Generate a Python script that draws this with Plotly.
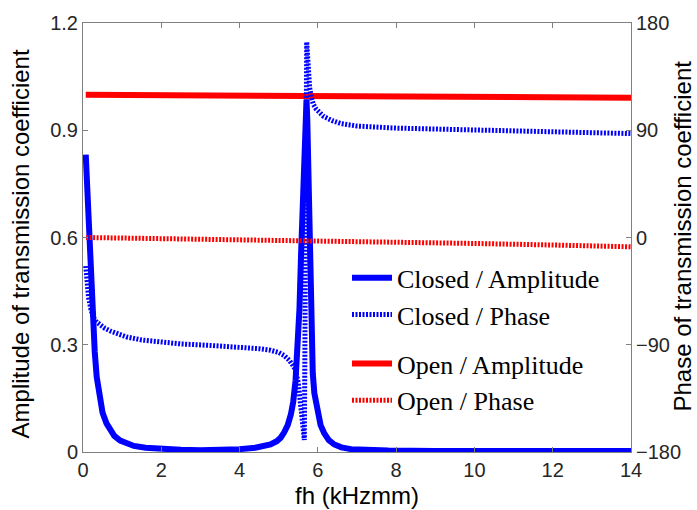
import plotly.graph_objects as go

# ---- data ----
closed_amp_x = [0.07, 0.12, 0.18, 0.22, 0.26, 0.30, 0.35, 0.42, 0.50, 0.60, 0.70, 0.80, 0.95,
                1.1, 1.3, 1.6, 2.0, 2.5, 3.0, 3.5, 4.0, 4.4, 4.6, 4.79, 4.95, 5.05, 5.14, 5.23,
                5.31, 5.37, 5.43, 5.48, 5.53, 5.57, 5.61, 5.65, 5.69, 5.71, 5.73, 5.76, 5.79,
                5.83, 5.87, 5.91, 5.99, 6.07, 6.16, 6.28, 6.42, 6.6, 6.85, 7.2, 7.8, 9.0, 10.0,
                11.0, 12.0, 13.0, 14.0]
closed_amp_y = [0.832, 0.70, 0.58, 0.47, 0.36, 0.28, 0.21, 0.15, 0.11, 0.08, 0.058, 0.045, 0.032,
                0.024, 0.017, 0.012, 0.008, 0.006, 0.005, 0.006, 0.008, 0.012, 0.016, 0.021, 0.03,
                0.04, 0.055, 0.075, 0.105, 0.14, 0.2, 0.28, 0.4, 0.55, 0.72, 0.88, 0.975, 0.985,
                0.93, 0.75, 0.52, 0.34, 0.22, 0.165, 0.108, 0.075, 0.053, 0.033, 0.021, 0.013,
                0.008, 0.005, 0.004, 0.003, 0.003, 0.003, 0.003, 0.003, 0.003]

closed_ph_x = [0.07, 0.10, 0.14, 0.20, 0.26, 0.35, 0.45, 0.55, 0.7, 0.9, 1.12, 1.5, 1.97, 2.5,
               3.26, 3.9, 4.5, 4.79, 5.0, 5.14, 5.27, 5.39, 5.45, 5.50, 5.54, 5.58, 5.62, 5.655,
               5.715, 5.74, 5.765, 5.79, 5.83, 5.88, 5.95, 6.03, 6.15, 6.37, 6.6, 7.0, 7.3, 8.0,
               9.0, 10.2, 11.0, 12.0, 13.0, 14.0]
closed_ph_y = [-24, -38, -50, -60, -67, -71, -74, -76, -78.5, -81, -83.5, -86, -88, -89.3,
               -90.6, -91.8, -93.3, -94.6, -96.5, -99, -103, -108.7, -114, -122, -135, -150,
               -162, -170, 164, 150, 138, 126, 118, 112, 108, 105, 101.5, 98, 95.5, 93.5, 92.7,
               91.8, 91, 90, 89.3, 88.5, 87.8, 87.2]

open_amp_x = [0.07, 2, 4, 6, 8, 10, 12, 14]
open_amp_y = [0.999, 0.998, 0.997, 0.996, 0.995, 0.994, 0.992, 0.991]

open_ph_x = [0.08, 2, 4, 6, 8, 10, 12, 14]
open_ph_y = [0, -0.8, -1.8, -2.8, -3.9, -5.0, -6.3, -7.8]

x_ticks = [0, 2, 4, 6, 8, 10, 12, 14]
amp_ticks = [0, 0.3, 0.6, 0.9, 1.2]
amp_tick_text = ["0", "0.3", "0.6", "0.9", "1.2"]
phase_ticks = [-180, -90, 0, 90, 180]

BLUE = "#0000FF"
RED = "#FF0000"
DOT = "2px,1.5px"
AXIS_GRAY = "#808080"
SANS = "Liberation Sans, Arial, sans-serif"
SERIF = "Liberation Serif, Times New Roman, serif"

fig = go.Figure()
fig.add_trace(go.Scatter(x=closed_amp_x, y=closed_amp_y, mode="lines", name="Closed / Amplitude",
                         legendgroup="closed", line=dict(color=BLUE, width=6), yaxis="y"))
fig.add_trace(go.Scatter(x=closed_ph_x, y=closed_ph_y, mode="lines", name="Closed / Phase",
                         legendgroup="closed", line=dict(color=BLUE, width=5, dash=DOT), yaxis="y2"))
fig.add_trace(go.Scatter(x=open_amp_x, y=open_amp_y, mode="lines", name="Open / Amplitude",
                         legendgroup="open", line=dict(color=RED, width=6), yaxis="y"))
fig.add_trace(go.Scatter(x=open_ph_x, y=open_ph_y, mode="lines", name="Open / Phase",
                         legendgroup="open", line=dict(color=RED, width=5, dash=DOT), yaxis="y2"))

L, R, T, B = 83, 66, 20, 58
W, H = 697, 510
pw = W - L - R
ph = H - T - B

def px2paper_x(px):
    return (px - L) / pw

def px2paper_y(py):
    return (H - B - py) / ph

fig.update_layout(
    width=W, height=H,
    margin=dict(l=L, r=R, t=T, b=B),
    paper_bgcolor="white", plot_bgcolor="white",
    showlegend=True,
    legend=dict(
        x=px2paper_x(347), y=px2paper_y(253), xanchor="left", yanchor="top",
        font=dict(family=SERIF, size=26, color="black"),
        bgcolor="rgba(0,0,0,0)", borderwidth=0,
        traceorder="grouped", tracegroupgap=12, itemwidth=40,
    ),
    xaxis=dict(
        range=[0, 14], tickvals=x_ticks, showgrid=False, zeroline=False,
        showline=True, linecolor=AXIS_GRAY, linewidth=1, mirror="ticks",
        ticks="inside", ticklen=5, tickcolor=AXIS_GRAY,
        tickfont=dict(family=SANS, size=20, color="#262626"),
    ),
    yaxis=dict(
        range=[0, 1.2], tickvals=amp_ticks, ticktext=amp_tick_text, showgrid=False,
        zeroline=False, showline=True, linecolor=AXIS_GRAY, linewidth=1,
        ticks="inside", ticklen=5, tickcolor=AXIS_GRAY,
        tickfont=dict(family=SANS, size=20, color="#262626"),
    ),
    yaxis2=dict(
        range=[-180, 180], tickvals=phase_ticks, overlaying="y", side="right",
        showgrid=False, zeroline=False, showline=True, linecolor=AXIS_GRAY, linewidth=1,
        ticks="inside", ticklen=5, tickcolor=AXIS_GRAY,
        tickfont=dict(family=SANS, size=20, color="#262626"),
    ),
    annotations=[
        dict(text="fh (kHzmm)", xref="paper", yref="paper", x=0.5 * (px2paper_x(83) + px2paper_x(631)),
             y=px2paper_y(496), xanchor="center", yanchor="middle", showarrow=False,
             font=dict(family=SANS, size=24, color="black")),
        dict(text="Amplitude of transmission coefficient", xref="paper", yref="paper",
             x=px2paper_x(20), y=px2paper_y(243), xanchor="center", yanchor="middle",
             textangle=-90, showarrow=False, font=dict(family=SANS, size=24, color="black")),
        dict(text="Phase of transmission coefficient", xref="paper", yref="paper",
             x=px2paper_x(683), y=px2paper_y(235), xanchor="center", yanchor="middle",
             textangle=-90, showarrow=False, font=dict(family=SANS, size=24, color="black")),
    ],
)

fig.write_html("out.html")
